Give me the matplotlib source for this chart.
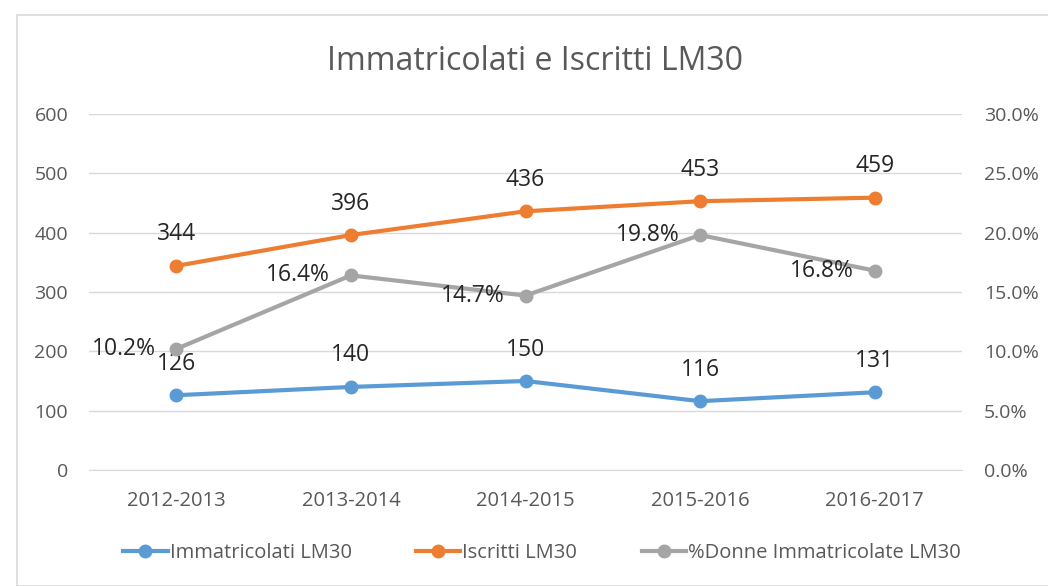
import matplotlib.pyplot as plt
from matplotlib.patches import Rectangle
from matplotlib.ticker import FuncFormatter

years = ["2012-2013", "2013-2014", "2014-2015", "2015-2016", "2016-2017"]
immatricolati = [126, 140, 150, 116, 131]
iscritti = [344, 396, 436, 453, 459]
donne_pct = [10.2, 16.4, 14.7, 19.8, 16.8]

blue = "#5B9BD5"
orange = "#ED7D31"
gray = "#A5A5A5"
txt = "#595959"
font = "Open Sans"

plt.rcParams["font.family"] = [font, "DejaVu Sans"]

fig = plt.figure(figsize=(10.48, 5.86), dpi=100)
fig.patches.append(Rectangle((17 / 1048, 0), 1.0, 1 - 15 / 586,
                             transform=fig.transFigure, fill=False,
                             edgecolor="#D9D9D9", linewidth=1.2))

ax = fig.add_axes([89 / 1048, 1 - 470 / 586, (962 - 89) / 1048, (470 - 114) / 586])
ax2 = ax.twinx()

x = list(range(len(years)))
ax.plot(x, immatricolati, color=blue, lw=3, marker="o", ms=9,
        label="Immatricolati LM30", zorder=3)
ax.plot(x, iscritti, color=orange, lw=3, marker="o", ms=9,
        label="Iscritti LM30", zorder=3)
ax2.plot(x, donne_pct, color=gray, lw=3, marker="o", ms=9,
         label="%Donne Immatricolate LM30", zorder=3)

# etichette dati
lab = dict(fontsize=16.5, color="#262626")
for xi, v in zip(x, immatricolati):
    ax.annotate(str(v), (xi, v), xytext=(0, 14), textcoords="offset points",
                ha="center", va="bottom", **lab)
for xi, v in zip(x, iscritti):
    ax.annotate(str(v), (xi, v), xytext=(0, 14), textcoords="offset points",
                ha="center", va="bottom", **lab)
for xi, v in zip(x, donne_pct):
    ax2.annotate(f"{v:.1f}%", (xi, v), xytext=(-15, 0), textcoords="offset points",
                 ha="right", va="center", **lab)

ax.set_xlim(-0.5, len(years) - 0.5)
ax.set_ylim(0, 600)
ax.set_yticks(range(0, 601, 100))
ax2.set_ylim(0, 30)
ax2.set_yticks(range(0, 31, 5))
ax2.yaxis.set_major_formatter(FuncFormatter(lambda v, p: f"{v:.1f}%"))
ax.set_xticks(x)
ax.set_xticklabels(years)

ax.grid(axis="y", color="#D9D9D9", lw=1)
ax.set_axisbelow(True)
for a in (ax, ax2):
    for s in a.spines.values():
        s.set_visible(False)
    a.tick_params(length=0, labelsize=14, colors=txt)
ax.spines["bottom"].set_visible(True)
ax.spines["bottom"].set_color("#D9D9D9")
ax.tick_params(axis="y", pad=15)
ax2.tick_params(axis="y", pad=16)
ax.tick_params(axis="x", pad=15, labelsize=14.5)

fig.text(535 / 1048, 1 - 62 / 586, "Immatricolati e Iscritti LM30",
         ha="center", va="center", fontsize=23, color=txt)

h1, l1 = ax.get_legend_handles_labels()
h2, l2 = ax2.get_legend_handles_labels()
fig.legend(h1 + h2, l1 + l2, loc="center", bbox_to_anchor=(542 / 1048, 1 - 553 / 586),
           ncol=3, frameon=False, fontsize=14.5, labelcolor=txt,
           handlelength=2.2, handletextpad=0.1, columnspacing=3.2)

fig.savefig("out.png", dpi=100)
